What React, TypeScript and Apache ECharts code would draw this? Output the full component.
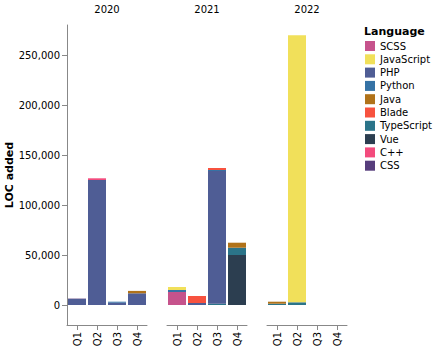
import React, { useEffect, useRef } from "react";
import * as echarts from "echarts";

const years = ["2020", "2021", "2022"];
const quarters = ["Q1", "Q2", "Q3", "Q4"];
const legendOrder = ["SCSS", "JavaScript", "PHP", "Python", "Java", "Blade", "TypeScript", "Vue", "C++", "CSS"];
const stackOrder = ["Vue", "SCSS", "TypeScript", "PHP", "Python", "JavaScript", "Java", "Blade", "C++", "CSS"];
const colors: Record<string, string> = {
  SCSS: "#c6538c",
  JavaScript: "#f1e05a",
  PHP: "#4f5d95",
  Python: "#3572a5",
  Java: "#b07219",
  Blade: "#f7523f",
  TypeScript: "#2b7489",
  Vue: "#2c3e50",
  "C++": "#f34b7d",
  CSS: "#563d7c",
};
// values: 2020 Q1..Q4, 2021 Q1..Q4, 2022 Q1..Q4
const vue = [0, 0, 0, 0, 0, 0, 0, 50000, 0, 0, 0, 0];
const scss = [0, 0, 0, 0, 13000, 0, 0, 0, 0, 0, 0, 0];
const typescript = [0, 0, 0, 0, 0, 0, 1300, 7300, 1300, 2700, 0, 0];
const php = [6000, 125000, 2300, 11700, 0, 2000, 132700, 0, 0, 0, 0, 0];
const python = [0, 0, 1000, 0, 2000, 0, 1000, 0, 0, 0, 0, 0];
const javascript = [0, 0, 0, 0, 3000, 0, 0, 0, 0, 267000, 0, 0];
const java = [0, 0, 0, 2400, 0, 0, 0, 5000, 2000, 0, 0, 0];
const blade = [0, 0, 0, 0, 0, 7000, 2000, 0, 0, 0, 0, 0];
const cpp = [0, 1700, 0, 0, 0, 0, 0, 0, 0, 0, 0, 0];
const css = [400, 0, 0, 0, 0, 0, 0, 0, 0, 0, 0, 0];
const yTicks = [0, 50000, 100000, 150000, 200000, 250000];

const values: Record<string, number[]> = {
  Vue: vue, SCSS: scss, TypeScript: typescript, PHP: php, Python: python,
  JavaScript: javascript, Java: java, Blade: blade, "C++": cpp, CSS: css,
};

const FONT = "DejaVu Sans";

export default function App() {
  const ref = useRef<HTMLDivElement>(null);
  useEffect(() => {
    if (!ref.current) return;
    const chart = echarts.init(ref.current, null, { renderer: "svg" });
    const gridLefts = [67, 167, 267];
    const grids = gridLefts.map((l) => ({ left: l, top: 25, width: 80, height: 300 }));
    const xAxes = years.map((_, g) => ({
      type: "category",
      gridIndex: g,
      data: quarters,
      axisLine: { show: true, onZero: false, lineStyle: { color: "#888", width: 1 } },
      axisTick: { show: true, alignWithLabel: true, length: 5, lineStyle: { color: "#888" } },
      axisLabel: { rotate: 90, fontSize: 10, color: "#000", fontFamily: FONT, margin: 7 },
      splitLine: { show: false },
    }));
    const yAxes = years.map((_, g) => ({
      type: "value",
      gridIndex: g,
      min: -20000,
      max: 280000,
      show: g === 0,
      name: g === 0 ? "LOC added" : "",
      nameLocation: "middle",
      nameGap: 48,
      nameTextStyle: { fontSize: 11, fontWeight: "bold", color: "#000", fontFamily: FONT },
      axisLine: { show: true, lineStyle: { color: "#888", width: 1 } },
      axisTick: { show: true, length: 5, lineStyle: { color: "#888" }, customValues: yTicks },
      axisLabel: {
        fontSize: 10,
        color: "#000",
        fontFamily: FONT,
        margin: 7,
        customValues: yTicks,
        formatter: (v: number) => v.toLocaleString("en-US"),
      },
      splitLine: { show: false },
    }));
    const series: any[] = [];
    years.forEach((_, g) => {
      stackOrder.forEach((lang) => {
        const arr = values[lang].slice(g * 4, g * 4 + 4).map((v) => (v === 0 ? null : v));
        series.push({
          type: "bar",
          name: lang,
          xAxisIndex: g,
          yAxisIndex: g,
          stack: "s" + g,
          data: arr,
          barCategoryGap: "10%",
          itemStyle: { color: colors[lang] },
        });
      });
    });
    chart.setOption({
      animation: false,
      grid: grids,
      xAxis: xAxes,
      yAxis: yAxes,
      legend: {
        data: legendOrder.map((n) => ({ name: n, icon: "rect" })),
        orient: "vertical",
        left: 365,
        top: 41,
        itemWidth: 10,
        itemHeight: 10,
        itemGap: 3.3,
        padding: 0,
        textStyle: { fontSize: 10, color: "#000", fontFamily: FONT },
        selectedMode: false,
      },
      graphic: [
        ...years.map((y, g) => ({
          type: "text",
          x: gridLefts[g] + 40,
          y: 9,
          style: { text: y, fontSize: 10, fill: "#000", fontFamily: FONT, align: "center", verticalAlign: "middle" },
        })),
        {
          type: "text",
          x: 364,
          y: 31,
          style: { text: "Language", fontSize: 11, fontWeight: "bold", fill: "#000", fontFamily: FONT, align: "left", verticalAlign: "middle" },
        },
      ],
      series,
    });
    return () => chart.dispose();
  }, []);
  return <div ref={ref} style={{ position: "absolute", left: 0, top: 0, width: 436, height: 351 }} />;
}
